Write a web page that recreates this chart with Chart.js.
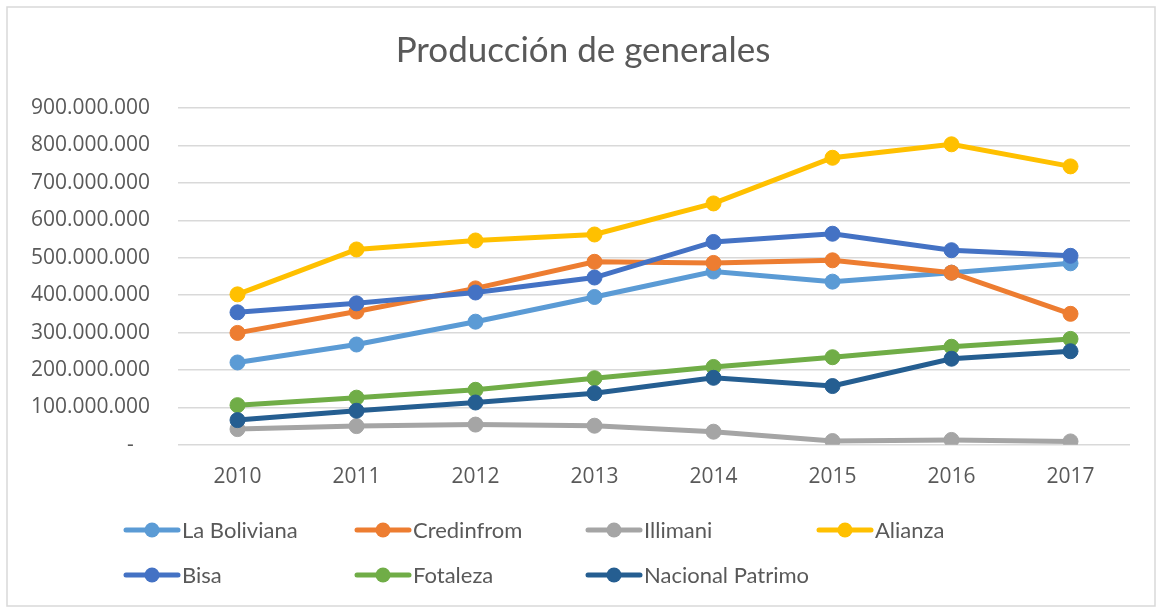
<!DOCTYPE html>
<html>
<head>
<meta charset="utf-8">
<script src="https://cdn.jsdelivr.net/npm/chart.js@4"></script>
<style>
  html, body { margin: 0; padding: 0; background: #fff; }
  #wrap { width: 1158px; height: 608px; position: relative; }
</style>
</head>
<body>
<div id="wrap"><canvas id="chart"></canvas></div>
<script>
var years = ['2010', '2011', '2012', '2013', '2014', '2015', '2016', '2017'];

var laBoliviana = [220000000, 268000000, 329000000, 395000000, 463000000, 436000000, 460000000, 485000000];
var credinfrom = [299000000, 356000000, 418000000, 489000000, 486000000, 493000000, 460000000, 350000000];
var illimani = [42000000, 50000000, 54000000, 51000000, 35000000, 10000000, 13000000, 9000000];
var alianza = [402000000, 522000000, 546000000, 562000000, 645000000, 767000000, 803000000, 744000000];
var bisa = [354000000, 378000000, 407000000, 447000000, 542000000, 564000000, 520000000, 505000000];
var fotaleza = [106000000, 126000000, 147000000, 178000000, 208000000, 234000000, 262000000, 283000000];
var nacionalPatrimo = [66000000, 91000000, 113000000, 138000000, 179000000, 157000000, 230000000, 250000000];

var seriesNames = ['La Boliviana', 'Credinfrom', 'Illimani', 'Alianza', 'Bisa', 'Fotaleza', 'Nacional Patrimo'];
var seriesData = [laBoliviana, credinfrom, illimani, alianza, bisa, fotaleza, nacionalPatrimo];
var seriesColors = ['#5B9BD5', '#ED7D31', '#A5A5A5', '#FFC000', '#4472C4', '#70AD47', '#255E91'];

var yMax = 900000000;
var yStep = 100000000;

function fmt(v) {
    if (v === 0) return '-   ';
    return String(v).replace(/\B(?=(\d{3})+(?!\d))/g, '.');
}

var datasets = seriesNames.map(function (name, i) {
    return {
        label: name,
        data: seriesData[i],
        borderColor: seriesColors[i],
        backgroundColor: seriesColors[i],
        borderWidth: 5,
        pointRadius: 7.5,
        pointBorderWidth: 1,
        pointHoverRadius: 7.5,
        tension: 0,
        order: seriesNames.length - i
    };
});

// frame around the whole chart
var framePlugin = {
    id: 'frame',
    beforeDraw: function (chart) {
        var c = chart.ctx;
        c.save();
        c.fillStyle = '#fff';
        c.fillRect(0, 0, chart.width, chart.height);
        c.strokeStyle = '#d9d9d9';
        c.lineWidth = 1.5;
        c.strokeRect(7, 7, chart.width - 10, chart.height - 9);
        c.restore();
    }
};

// excel-like legend laid out in fixed columns
var gridLegend = {
    id: 'gridLegend',
    afterDraw: function (chart) {
        var c = chart.ctx;
        var left = 126, colW = 231, rowY = [530, 575], perRow = 4;
        c.save();
        c.font = '22px Lato, "Open Sans", sans-serif';
        c.textBaseline = 'middle';
        c.textAlign = 'left';
        chart.data.datasets.forEach(function (ds, i) {
            var x = left + (i % perRow) * colW;
            var y = rowY[Math.floor(i / perRow)];
            c.strokeStyle = ds.borderColor;
            c.lineWidth = 5;
            c.lineCap = 'round';
            c.beginPath();
            c.moveTo(x, y);
            c.lineTo(x + 52, y);
            c.stroke();
            c.fillStyle = ds.borderColor;
            c.beginPath();
            c.arc(x + 26, y, 7.5, 0, Math.PI * 2);
            c.fill();
            c.fillStyle = '#595959';
            c.fillText(ds.label, x + 56, y + 1);
        });
        c.restore();
    }
};

var ctx = document.getElementById('chart').getContext('2d');

var chart = new Chart(ctx, {
    type: 'line',
    data: {
        labels: years,
        datasets: datasets
    },
    options: {
        responsive: true,
        maintainAspectRatio: false,
        animation: false,
        layout: {
            padding: { left: 10, right: 2, top: 0, bottom: 98 }
        },
        plugins: {
            legend: { display: false },
            tooltip: { enabled: false },
            title: {
                display: true,
                text: 'Producción de generales',
                color: '#595959',
                font: { family: 'Lato, "Open Sans", sans-serif', size: 35, weight: 'normal' },
                padding: { top: 30, bottom: 36 }
            }
        },
        scales: {
            x: {
                offset: true,
                grid: { display: false, drawTicks: false },
                border: { display: false },
                ticks: {
                    color: '#595959',
                    padding: 20,
                    font: { family: '"Open Sans", sans-serif', size: 21 }
                }
            },
            y: {
                min: 0,
                max: yMax,
                afterFit: function (scale) { scale.width = 168; },
                grid: { color: '#d9d9d9', lineWidth: 1.5, drawTicks: false },
                border: { display: false },
                ticks: {
                    stepSize: yStep,
                    color: '#595959',
                    padding: 28,
                    font: { family: '"Open Sans", sans-serif', size: 21 },
                    callback: function (v) { return fmt(v); }
                }
            },
            // empty spacer on the right so the title centres like the original
            spacer: {
                type: 'linear',
                position: 'right',
                grid: { display: false, drawTicks: false },
                border: { display: false },
                ticks: { display: false },
                afterFit: function (scale) { scale.width = 26; }
            }
        }
    },
    plugins: [framePlugin, gridLegend]
});
</script>
</body>
</html>
